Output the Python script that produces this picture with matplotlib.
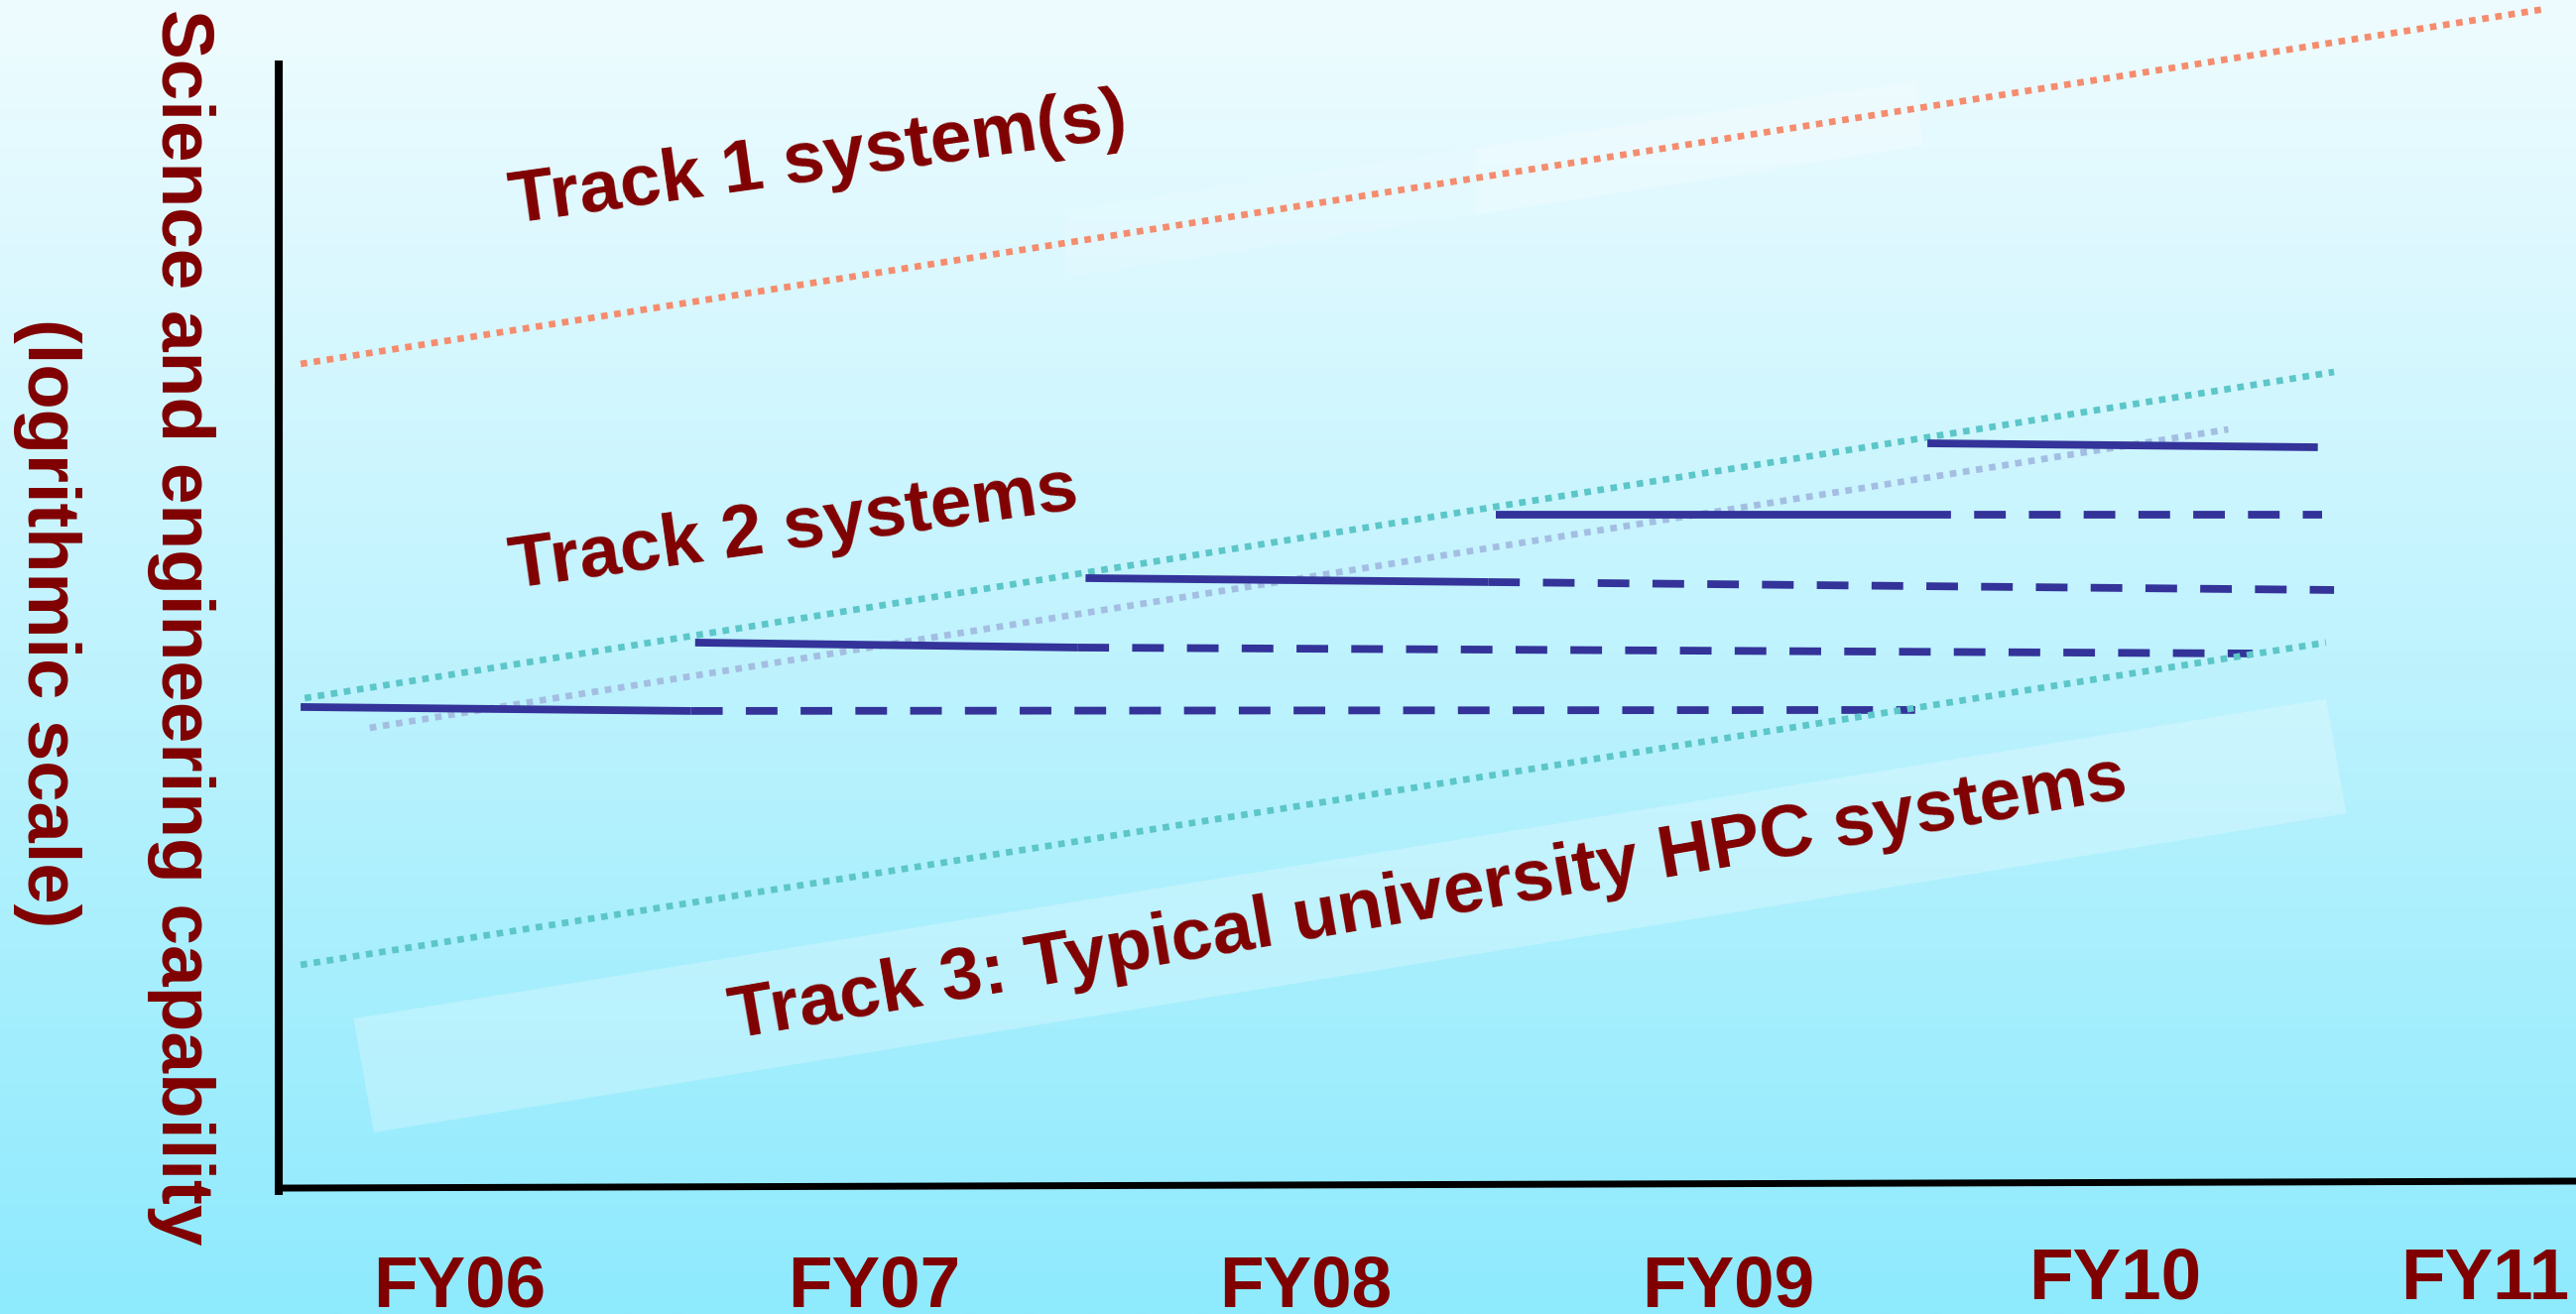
import numpy as np
import matplotlib
matplotlib.use("Agg")
import matplotlib.pyplot as plt
from matplotlib.patches import Polygon
from matplotlib.transforms import blended_transform_factory

W, H, DPI = 2597, 1325, 100

# Fiscal-year labels and their places on the time axis
fy_labels = ["FY06", "FY07", "FY08", "FY09", "FY10", "FY11"]
fy_pos = [2006.00, 2007.02, 2008.08, 2009.12, 2010.07, 2010.98]
fy_raise = [0, 0, 0, 0, 8, 8]

# Trend envelopes: (year, relative capability, log scale)
track1_x = [2005.61, 2011.13]
track1_y = [835, 15250]
track2_upper_x = [2005.62, 2010.61]
track2_upper_y = [54.2, 782]
track2_mid_x = [2005.78, 2010.35]
track2_mid_y = [42.5, 489]
track3_x = [2005.61, 2010.59]
track3_y = [6.11, 85.4]

# Track 2 systems: full-service period (solid), extended period (dashed)
sys_start_x = [2005.61, 2006.58, 2007.54, 2008.55, 2009.61]
sys_start_y = [50.4, 85.4, 144.7, 243.2, 436.1]
sys_solid_end_x = [2006.57, 2007.52, 2008.53, 2009.59, 2010.57]
sys_solid_end_y = [48.8, 82.0, 140.1, 243.2, 422.2]
sys_dash_end_x = [2009.58, 2010.41, 2010.61, 2010.58, None]
sys_dash_end_y = [49.2, 78.1, 131.3, 243.2, None]

# Region labels
track_labels = ["Track 1 system(s)", "Track 2 systems",
                "Track 3: Typical university HPC systems"]
track_label_x = [2006.89, 2006.83, 2008.39]
track_label_y = [3776, 184.5, 8.94]
track_label_rot = [8.0, 8.0, 9.8]

# Light bands behind labels
band3_x = [2005.74, 2010.59, 2010.64, 2005.79]
band3_y = [3.94, 53.8, 21.1, 1.55]
band1a_x = [2007.49, 2009.58, 2009.60, 2007.49]
band1a_y = [2937, 8433, 4977, 1691]
band1b_x = [2008.50, 2009.58, 2009.60, 2008.50]
band1b_y = [4897, 8433, 4977, 2820]

ylabel_lines = ["Science and engineering capability", "(logrithmic scale)"]

TEXT_RED = "#800000"
BLUE = "#333399"
TEAL = "#5cc6c8"
SALMON = "#f58c6e"
LAVENDER = "#a4bee2"
FONT = "Liberation Sans"
FS_TICK = 52.5
FS_LABEL = 53.8

plt.rcParams["font.family"] = [FONT, "DejaVu Sans"]

fig = plt.figure(figsize=(W / DPI, H / DPI), dpi=DPI)

# vertical background gradient
bg = fig.add_axes([0, 0, 1, 1], zorder=-10)
top = np.array([239, 252, 255]) / 255
bot = np.array([142, 234, 253]) / 255
t = np.linspace(0, 1, 512)[:, None]
grad = (top[None, :] * (1 - t) + bot[None, :] * t)[:, None, :]
bg.imshow(grad, aspect="auto", extent=[0, 1, 0, 1], interpolation="bilinear")
bg.axis("off")

ax = fig.add_axes([281 / W, (H - 1196) / H, (W - 281) / W, (1196 - 61) / H])
ax.set_facecolor("none")
ax.set_xlim(2005.5561, 2011.2049)
ax.set_yscale("log")
ax.set_ylim(1, 1e4)
ax.axis("off")

# label bands
for bx, by, a in [(band3_x, band3_y, 0.25), (band1a_x, band1a_y, 0.12),
                  (band1b_x, band1b_y, 0.18)]:
    ax.add_patch(Polygon(list(zip(bx, by)), closed=True, facecolor="white",
                         edgecolor="none", alpha=a, zorder=1))

dot_lw = 4.8
dots = (1.0, 1.0)
ax.plot(track1_x, track1_y, color=SALMON, lw=dot_lw, dashes=dots,
        dash_capstyle="butt", clip_on=False, zorder=2)
ax.plot(track2_upper_x, track2_upper_y, color=TEAL, lw=dot_lw, dashes=dots,
        dash_capstyle="butt", clip_on=False, zorder=2)
ax.plot(track2_mid_x, track2_mid_y, color=LAVENDER, lw=dot_lw, dashes=dots,
        dash_capstyle="butt", clip_on=False, zorder=2)
ax.plot(track3_x, track3_y, color=TEAL, lw=dot_lw, dashes=dots,
        dash_capstyle="butt", clip_on=False, zorder=4)

sys_lw = 5.6
for i in range(len(sys_start_x)):
    ax.plot([sys_start_x[i], sys_solid_end_x[i]],
            [sys_start_y[i], sys_solid_end_y[i]], color=BLUE, lw=sys_lw,
            solid_capstyle="butt", zorder=3)
    if sys_dash_end_x[i] is not None:
        ax.plot([sys_solid_end_x[i], sys_dash_end_x[i]],
                [sys_solid_end_y[i], sys_dash_end_y[i]], color=BLUE, lw=sys_lw,
                dashes=(4.1, 3.0), dash_capstyle="butt", zorder=3)

# axis lines
ax.plot([0, 1], [-0.0018, 0.0044], transform=ax.transAxes, color="black",
        lw=5.0, solid_capstyle="butt", clip_on=False, zorder=5)
ax.plot([0, 0], [-0.0079, 1.0], transform=ax.transAxes, color="black",
        lw=5.8, solid_capstyle="butt", clip_on=False, zorder=5)

# region labels
for s, x, y, r in zip(track_labels, track_label_x, track_label_y, track_label_rot):
    ax.text(x, y, s, rotation=r, rotation_mode="anchor", ha="center",
            va="baseline", color=TEXT_RED, fontsize=FS_LABEL, fontweight="bold",
            zorder=6)

# fiscal-year labels
xfig = blended_transform_factory(ax.transData, fig.transFigure)
for lab, x, dy in zip(fy_labels, fy_pos, fy_raise):
    ax.text(x, 1 - (1318 - dy) / H, lab, transform=xfig, ha="center",
            va="baseline", color=TEXT_RED, fontsize=FS_TICK, fontweight="bold",
            clip_on=False)

# vertical axis title
fig.text(163 / W, 1 - 632 / H, ylabel_lines[0], rotation=270,
         rotation_mode="anchor", ha="center", va="baseline", color=TEXT_RED,
         fontsize=53.8, fontweight="bold")
fig.text(28 / W, 1 - 628 / H, ylabel_lines[1], rotation=270,
         rotation_mode="anchor", ha="center", va="baseline", color=TEXT_RED,
         fontsize=53.5, fontweight="bold")

fig.savefig("out.png", dpi=DPI)
